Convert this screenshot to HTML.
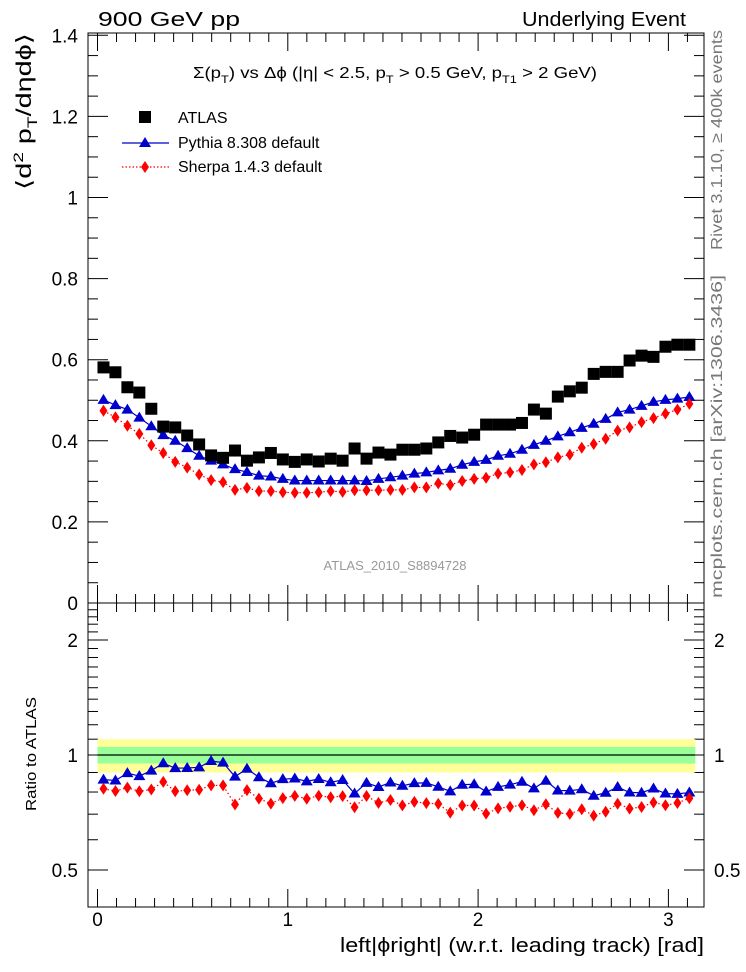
<!DOCTYPE html>
<html><head><meta charset="utf-8"><style>
html,body{margin:0;padding:0;background:#fff;}
svg{display:block;font-family:"Liberation Sans",sans-serif;}
</style></head><body>
<svg id="chart" width="746" height="972" viewBox="0 0 746 972" xmlns="http://www.w3.org/2000/svg">
<text x="98" y="26" font-size="20" textLength="142" lengthAdjust="spacingAndGlyphs">900 GeV pp</text>
<text x="522" y="26" font-size="20" textLength="164" lengthAdjust="spacingAndGlyphs">Underlying Event</text>
<g id="main"></g>
<g id="ratio"></g>
<text x="193" y="78" font-size="16" textLength="404" lengthAdjust="spacingAndGlyphs">Σ(p<tspan font-size="11" dy="5">T</tspan><tspan dy="-5">) vs Δϕ (|η| &lt; 2.5, p</tspan><tspan font-size="11" dy="5">T</tspan><tspan dy="-5"> &gt; 0.5 GeV, p</tspan><tspan font-size="11" dy="5">T1</tspan><tspan dy="-5"> &gt; 2 GeV)</tspan></text>
<text x="395" y="570" font-size="13" fill="#999" text-anchor="middle">ATLAS_2010_S8894728</text>
<text transform="translate(31,190) rotate(-90)" font-size="21" textLength="157" lengthAdjust="spacingAndGlyphs">⟨d<tspan font-size="14" dy="-8">2</tspan><tspan dy="8"> p</tspan><tspan font-size="14" dy="6">T</tspan><tspan dy="-6">/dηdϕ⟩</tspan></text>
<text transform="translate(36,811) rotate(-90)" font-size="15" textLength="114" lengthAdjust="spacingAndGlyphs">Ratio to ATLAS</text>
<text x="340" y="952" font-size="20" textLength="364" lengthAdjust="spacingAndGlyphs">left|ϕright| (w.r.t. leading track) [rad]</text>
<text transform="translate(722,250) rotate(-90)" font-size="16" fill="#777" textLength="220" lengthAdjust="spacingAndGlyphs">Rivet 3.1.10, ≥ 400k events</text>
<text transform="translate(722,598) rotate(-90)" font-size="16" fill="#777" textLength="323" lengthAdjust="spacingAndGlyphs">mcplots.cern.ch [arXiv:1306.3436]</text>
<g>
 <rect x="139" y="111" width="12" height="12" fill="#000"/>
 <text x="178" y="123" font-size="16">ATLAS</text>
 <line x1="122" y1="143" x2="169" y2="143" stroke="#00c" stroke-width="1.2"/>
 <polygon points="145,137 151,147 139,147" fill="#00c"/>
 <text x="178" y="148" font-size="16">Pythia 8.308 default</text>
 <line x1="122" y1="167" x2="169" y2="167" stroke="#f00" stroke-width="1.2" stroke-dasharray="1.5,2"/>
 <polygon points="145,161 149,167 145,173 141,167" fill="#f00"/>
 <text x="178" y="172" font-size="16">Sherpa 1.4.3 default</text>
</g>
</svg>
<script>
const atlas=[0.581,0.569,0.532,0.519,0.479,0.435,0.433,0.413,0.391,0.364,0.358,0.376,0.351,0.359,0.370,0.354,0.348,0.354,0.349,0.356,0.351,0.381,0.356,0.371,0.366,0.378,0.378,0.381,0.396,0.412,0.408,0.415,0.440,0.440,0.440,0.444,0.477,0.467,0.509,0.522,0.531,0.565,0.570,0.570,0.598,0.610,0.607,0.632,0.637,0.637];
const pythia=[0.501,0.488,0.477,0.457,0.436,0.414,0.400,0.382,0.363,0.351,0.342,0.330,0.323,0.314,0.312,0.306,0.302,0.302,0.302,0.302,0.302,0.302,0.301,0.306,0.310,0.314,0.319,0.322,0.327,0.331,0.341,0.348,0.353,0.363,0.368,0.378,0.390,0.400,0.411,0.421,0.432,0.442,0.454,0.470,0.477,0.486,0.496,0.501,0.504,0.508];
const sherpa=[0.474,0.458,0.437,0.417,0.389,0.370,0.348,0.334,0.317,0.303,0.298,0.279,0.284,0.276,0.276,0.273,0.272,0.272,0.273,0.276,0.274,0.278,0.278,0.278,0.279,0.279,0.285,0.285,0.295,0.291,0.301,0.306,0.309,0.319,0.322,0.328,0.342,0.347,0.359,0.366,0.383,0.392,0.405,0.425,0.433,0.446,0.456,0.467,0.477,0.491];
const greenBand=[0.95,1.05];
const yellowBand=[0.90,1.10];
const xTickLabels=["0","1","2","3"];
const mainTickLabels=["0","0.2","0.4","0.6","0.8","1","1.2","1.4"];
const ratioTickLabels=["0.5","1","2"];

const NS="http://www.w3.org/2000/svg";
const L=88,R=704,T=33,M=603,B=907;
const X=v=>97.5+190.3*v;
const Y=v=>603-405.5*v;
const YR=v=>755-115*Math.log2(v);
const nb=atlas.length, w=Math.PI/nb;
const xc=i=>(i+0.5)*w;
function el(tag,attrs,parent){const e=document.createElementNS(NS,tag);for(const k in attrs)e.setAttribute(k,attrs[k]);parent.appendChild(e);return e;}
const main=document.getElementById('main'), ratio=document.getElementById('ratio');

let f=el('rect',{x:L,y:T,width:R-L,height:M-T,fill:'none',stroke:'#000','stroke-width':1},main);


f=el('rect',{x:L,y:M,width:R-L,height:B-M,fill:'none',stroke:'#000','stroke-width':1},ratio);



for(let k=0;k<=31;k++){const v=k/10,x=X(v);const len=(k%10===0)?18:9;
 el('line',{x1:x,y1:M,x2:x,y2:M-len,stroke:'#000'},main);
 el('line',{x1:x,y1:T,x2:x,y2:T+len,stroke:'#000'},main);
 el('line',{x1:x,y1:B,x2:x,y2:B-len,stroke:'#000'},ratio);
 el('line',{x1:x,y1:M,x2:x,y2:M+len,stroke:'#000'},ratio);}
xTickLabels.forEach((s,i)=>{const t=el('text',{x:X(i),y:926,'font-size':19,'text-anchor':'middle'},ratio);t.textContent=s;
 
 });
for(let k=0;k<=28;k++){const v=k*0.05,y=Y(v);const len=(k%4===0)?20:10;
 el('line',{x1:L,y1:y,x2:L+len,y2:y,stroke:'#000'},main);
 el('line',{x1:R,y1:y,x2:R-len,y2:y,stroke:'#000'},main);}
mainTickLabels.forEach((s,i)=>{const t=el('text',{x:78,y:Y(i*0.2)+7,'font-size':19,'text-anchor':'end'},main);t.textContent=s;
 
 });
for(let k=4;k<=25;k++){const v=k/10,y=YR(v);if(y<M||y>B)continue;const maj=(k===5||k===10||k===20);const len=maj?20:10;
 el('line',{x1:L,y1:y,x2:L+len,y2:y,stroke:'#000'},ratio);
 el('line',{x1:R,y1:y,x2:R-len,y2:y,stroke:'#000'},ratio);}
ratioTickLabels.forEach(s=>{const v=parseFloat(s);
 let t=el('text',{x:78,y:YR(v)+7,'font-size':19,'text-anchor':'end'},ratio);t.textContent=s;
 
 
 t=el('text',{x:714,y:YR(v)+7,'font-size':19},ratio);t.textContent=s;
 
 });

let b=el('rect',{x:X(0),y:YR(yellowBand[1]),width:X(Math.PI)-X(0),height:YR(yellowBand[0])-YR(yellowBand[1]),fill:'#ffff99'},ratio);


b=el('rect',{x:X(0),y:YR(greenBand[1]),width:X(Math.PI)-X(0),height:YR(greenBand[0])-YR(greenBand[1]),fill:'#99ff99'},ratio);


let l1=el('line',{x1:X(0),y1:YR(1),x2:X(Math.PI),y2:YR(1),stroke:'#000','stroke-width':1.2},ratio);



function drawSeries(vals,yf,color,dash,shape,parent,name){
 const pts=vals.map((v,i)=>[X(xc(i)),yf(v)]);
 const pl=el('polyline',{points:pts.map(p=>p.join(',')).join(' '),fill:'none',stroke:color,'stroke-width':1.2},parent);
 if(dash)pl.setAttribute('stroke-dasharray',dash);
 
 
 pts.forEach(([x,y])=>{let m;
  if(shape==='tri')m=el('polygon',{points:`${x},${y-6} ${x+6},${y+4} ${x-6},${y+4}`,fill:color},parent);
  else m=el('polygon',{points:`${x},${y-6} ${x+4},${y} ${x},${y+6} ${x-4},${y}`,fill:color},parent);
  
  });
}
drawSeries(pythia,Y,'#00c',null,'tri',main,'pythia');
drawSeries(sherpa,Y,'#f00','1.5,2.5','dia',main,'sherpa');
atlas.forEach((v,i)=>{const x=X(xc(i)),y=Y(v);
 const r=el('rect',{x:x-6,y:y-6,width:12,height:12,fill:'#000'},main);
 
 });
drawSeries(pythia.map((v,i)=>v/atlas[i]),YR,'#00c',null,'tri',ratio,'pythia-ratio');
drawSeries(sherpa.map((v,i)=>v/atlas[i]),YR,'#f00','1.5,2.5','dia',ratio,'sherpa-ratio');
</script>
</body></html>
